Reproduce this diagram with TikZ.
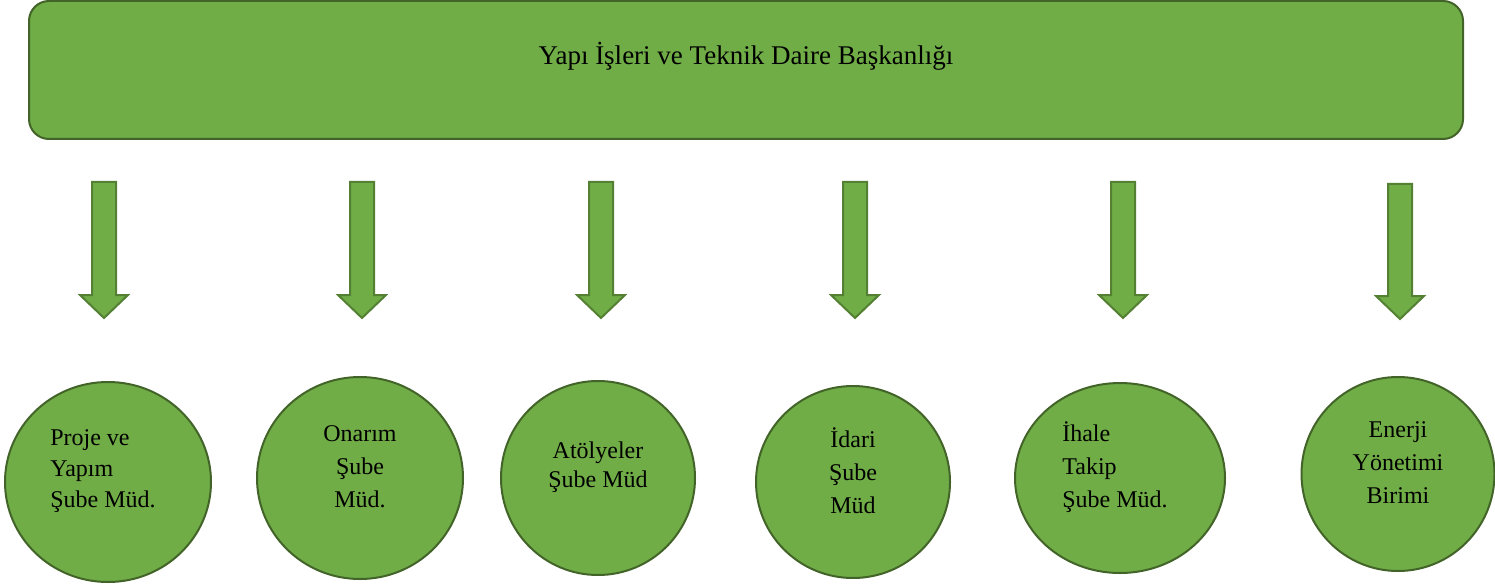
\documentclass[tikz,border=0pt]{standalone}
\usepackage{fontspec}
\setmainfont{Liberation Serif}
\usetikzlibrary{shapes.geometric}

\definecolor{leaf}{RGB}{112,173,71}
\definecolor{leafdark}{RGB}{66,100,40}
\definecolor{leafedge}{RGB}{84,128,52}

\tikzset{
  headbox/.style={draw=leafdark, fill=leaf, line width=2pt, rounded corners=20pt,
    minimum width=1434pt, minimum height=138pt},
  unit/.style={ellipse, draw=leafdark, fill=leaf, line width=2pt, inner sep=0pt},
  unittext/.style={font=\fontsize{24}{33}\selectfont, inner sep=0pt},
  downarrow/.style={draw=leafedge, fill=leaf, line width=2pt, line join=miter}
}

\begin{document}
\begin{tikzpicture}[x=1pt,y=-1pt]
\useasboundingbox (0,0) rectangle (1495,588);

% top unit
\node[headbox] (chief) at (746,70) {};
\node[font=\fontsize{27}{32}\selectfont] (title) at (746,56) {Yapı İşleri ve Teknik Daire Başkanlığı};

% arrows
\draw[downarrow] (92,182) -- (116,182) -- (116,295) -- (128,295) -- (104,318) -- (80,295) -- (92,295) -- cycle;
\draw[downarrow] (350,182) -- (374,182) -- (374,295) -- (386,295) -- (362,318) -- (338,295) -- (350,295) -- cycle;
\draw[downarrow] (589,182) -- (613,182) -- (613,295) -- (625,295) -- (601,318) -- (577,295) -- (589,295) -- cycle;
\draw[downarrow] (843,182) -- (867,182) -- (867,295) -- (879,295) -- (855,318) -- (831,295) -- (843,295) -- cycle;
\draw[downarrow] (1111,182) -- (1135,182) -- (1135,295) -- (1147,295) -- (1123,318) -- (1099,295) -- (1111,295) -- cycle;
\draw[downarrow] (1388,184) -- (1412,184) -- (1412,296) -- (1424,296) -- (1400,319) -- (1376,296) -- (1388,296) -- cycle;

% sub units
\node[unit, minimum width=206pt, minimum height=200pt] (c1) at (108,482) {};
\node[unit, minimum width=206pt, minimum height=202pt] (c2) at (360,478) {};
\node[unit, minimum width=194pt, minimum height=194pt] (c3) at (598,478) {};
\node[unit, minimum width=194pt, minimum height=192pt] (c4) at (853,482) {};
\node[unit, minimum width=210pt, minimum height=190pt] (c5) at (1120,478) {};
\node[unit, minimum width=193pt, minimum height=194pt] (c6) at (1398,474) {};

\node[unittext, align=left, font=\fontsize{24}{31}\selectfont] (t1) at ([xshift=-5pt,yshift=11pt]c1.center) {Proje ve\\Yapım\\Şube Müd.};
\node[unittext, align=center] (t2) at ([yshift=11pt]c2.center) {Onarım\\Şube\\Müd.};
\node[unittext, align=center, font=\fontsize{24}{29}\selectfont] (t3) at ([yshift=11pt]c3.center) {Atölyeler\\Şube Müd};
\node[unittext, align=center] (t4) at ([yshift=11pt]c4.center) {İdari\\Şube\\Müd};
\node[unittext, align=left] (t5) at ([xshift=-5pt,yshift=11pt]c5.center) {İhale\\Takip\\Şube Müd.};
\node[unittext, align=center] (t6) at ([yshift=11pt]c6.center) {Enerji\\Yönetimi\\Birimi};

\end{tikzpicture}
\end{document}
